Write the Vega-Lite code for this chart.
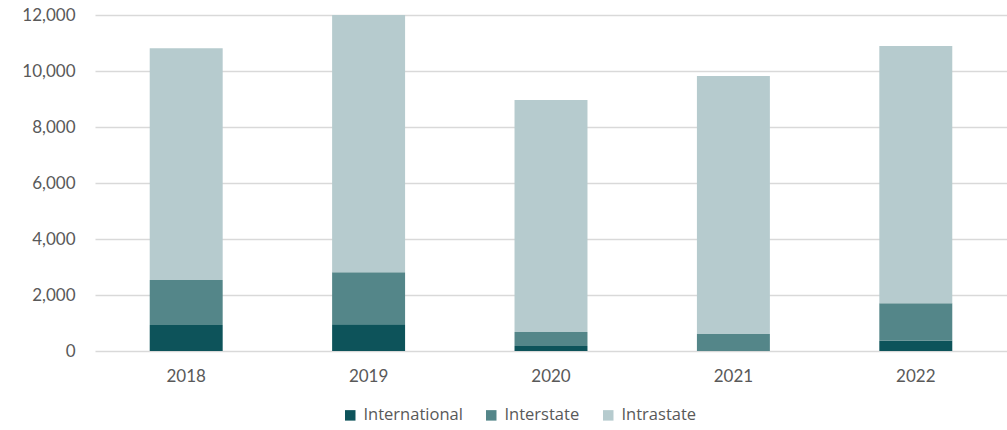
{
  "$schema": "https://vega.github.io/schema/vega-lite/v6.json",
  "autosize": "none",
  "width": 912,
  "height": 336,
  "padding": {"left": 95, "top": 15, "right": 0, "bottom": 79},
  "background": "white",
  "data": {
    "values": [
      {"year": "2018", "type": "International", "rank": 1, "value": 929},
      {"year": "2018", "type": "Interstate", "rank": 2, "value": 1607},
      {"year": "2018", "type": "Intrastate", "rank": 3, "value": 8274},
      {"year": "2019", "type": "International", "rank": 1, "value": 953},
      {"year": "2019", "type": "Interstate", "rank": 2, "value": 1857},
      {"year": "2019", "type": "Intrastate", "rank": 3, "value": 9190},
      {"year": "2020", "type": "International", "rank": 1, "value": 179},
      {"year": "2020", "type": "Interstate", "rank": 2, "value": 500},
      {"year": "2020", "type": "Intrastate", "rank": 3, "value": 8285},
      {"year": "2021", "type": "International", "rank": 1, "value": 0},
      {"year": "2021", "type": "Interstate", "rank": 2, "value": 607},
      {"year": "2021", "type": "Intrastate", "rank": 3, "value": 9214},
      {"year": "2022", "type": "International", "rank": 1, "value": 368},
      {"year": "2022", "type": "Interstate", "rank": 2, "value": 1336},
      {"year": "2022", "type": "Intrastate", "rank": 3, "value": 9189}
    ]
  },
  "mark": {"type": "bar"},
  "encoding": {
    "x": {
      "field": "year", "type": "nominal",
      "scale": {"paddingInner": 0.6, "paddingOuter": 0.3},
      "axis": {"title": null, "labelAngle": 0, "labelFont": "Lato", "labelFontSize": 17, "labelColor": "#595959",
               "labelPadding": 17, "ticks": false, "domain": false}
    },
    "y": {
      "field": "value", "type": "quantitative", "stack": "zero",
      "scale": {"domain": [0, 12000], "nice": false},
      "axis": {"title": null, "values": [0, 2000, 4000, 6000, 8000, 10000, 12000], "format": ",d",
               "labelFont": "Lato", "labelFontSize": 17, "labelColor": "#595959", "labelPadding": 20,
               "ticks": false, "domain": false, "grid": true, "gridColor": "#d9d9d9", "gridWidth": 1.5}
    },
    "color": {
      "field": "type", "type": "nominal",
      "scale": {"domain": ["International", "Interstate", "Intrastate"], "range": ["#0d535a", "#548689", "#b6cbce"]},
      "legend": {"title": null, "orient": "none", "direction": "horizontal", "legendX": 247, "legendY": 392,
                 "symbolType": "square", "symbolSize": 110, "symbolStrokeWidth": 0, "labelFont": "Open Sans",
                 "labelFontSize": 16.5, "labelColor": "#595959", "labelOffset": 5, "columnPadding": 20}
    },
    "order": {"field": "rank", "type": "quantitative"}
  },
  "config": {"view": {"stroke": null}}
}
